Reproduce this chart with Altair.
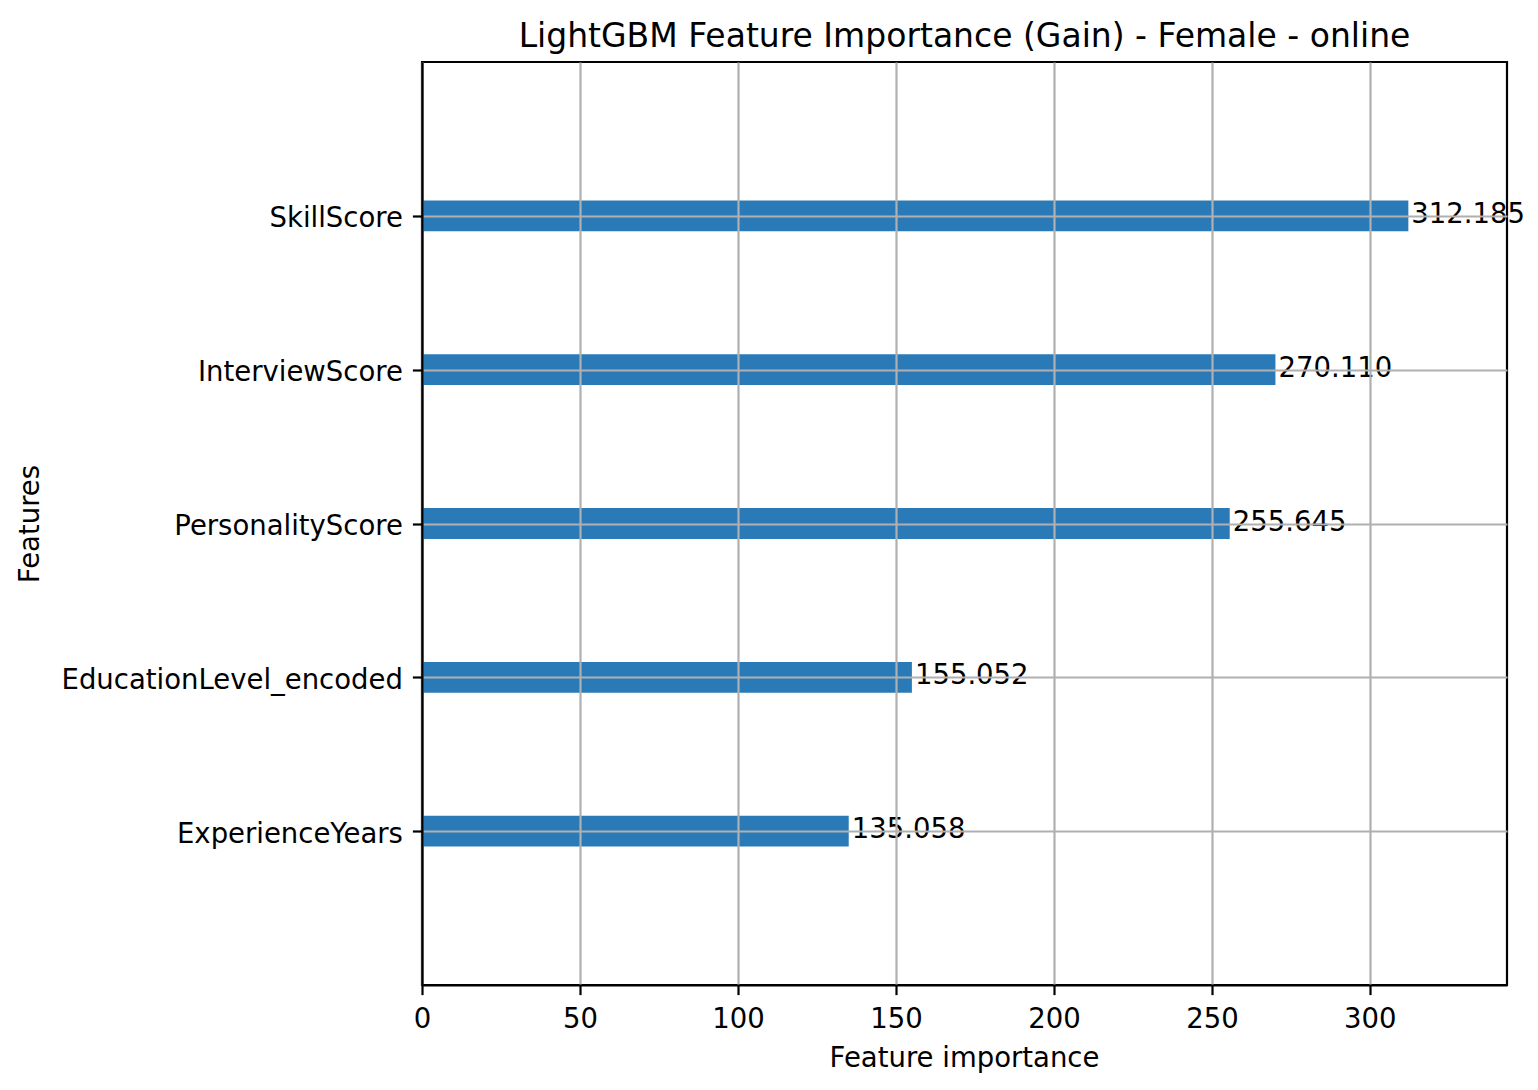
import altair as alt
import pandas as pd

features = ["ExperienceYears", "EducationLevel_encoded", "PersonalityScore", "InterviewScore", "SkillScore"]
importance = [135.058, 155.052, 255.645, 270.110, 312.185]
x_ticks = [0, 50, 100, 150, 200, 250, 300]

df = pd.DataFrame({"feature": features, "idx": list(range(len(features))), "gain": importance})

FONT = "DejaVu Sans"
FS = 27.5
label_expr = "[" + ",".join("'" + f + "'" for f in features) + "][datum.value]"

x_scale = alt.Scale(domain=[0, max(importance) * 1.1], nice=False, zero=True)
y_scale = alt.Scale(domain=[-1, len(features)], nice=False, zero=False)

base = alt.Chart(df).transform_calculate(
    y0="datum.idx - 0.1", y1="datum.idx + 0.1"
)

bars = base.mark_bar(color="#2a7ab8", stroke=None).encode(
    x=alt.X("gain:Q", scale=x_scale,
            axis=alt.Axis(values=x_ticks, title="Feature importance", grid=True,
                          gridColor="#b0b0b0", gridWidth=2.2,
                          domain=True, domainColor="black", domainWidth=2.2,
                          tickColor="black", tickWidth=2.2, tickSize=9.6,
                          labelFont=FONT, labelFontSize=FS, labelColor="black",
                          labelPadding=11, labelFlush=False,
                          titleFont=FONT, titleFontSize=FS, titleFontWeight="normal",
                          titleColor="black", titleX=542, titleY=73,
                          titleAlign="center", titleBaseline="middle",
                          zindex=1)),
    x2=alt.value(0),
    y=alt.Y("y0:Q", scale=y_scale,
            axis=alt.Axis(values=list(range(len(features))), labelExpr=label_expr,
                          title="Features", grid=True, gridColor="#b0b0b0", gridWidth=2.2,
                          domain=True, domainColor="black", domainWidth=2.2,
                          tickColor="black", tickWidth=2.2, tickSize=9.6,
                          labelFont=FONT, labelFontSize=FS, labelColor="black",
                          labelPadding=10, labelFlush=False, labelLimit=0, labelOffset=3,
                          titleFont=FONT, titleFontSize=FS, titleFontWeight="normal",
                          titleColor="black", titleX=-392, titleY=461.5, titleAngle=270,
                          titleAlign="center", titleBaseline="middle",
                          zindex=1)),
    y2="y1:Q",
)

labels = alt.Chart(df).mark_text(
    align="left", baseline="middle", dx=3, dy=-1, font=FONT, fontSize=FS, color="black"
).encode(
    x=alt.X("gain:Q", scale=x_scale),
    y=alt.Y("idx:Q", scale=y_scale),
    text=alt.Text("gain:Q", format=".3f"),
)

chart = alt.layer(bars, labels).properties(
    width=1085,
    height=923,
    background="white",
    title=alt.TitleParams(
        "LightGBM Feature Importance (Gain) - Female - online",
        font=FONT, fontSize=33, fontWeight="normal", color="black",
        anchor="middle", baseline="alphabetic", offset=16, frame="group", dy=34,
    ),
    autosize=alt.AutoSizeParams(type="none"),
    padding={"left": 414, "top": 54, "right": 20, "bottom": 90},
).configure_view(stroke="black", strokeWidth=2.2, strokeOpacity=1)

chart.save("out.html", embed_options={"renderer": "svg", "actions": False})
